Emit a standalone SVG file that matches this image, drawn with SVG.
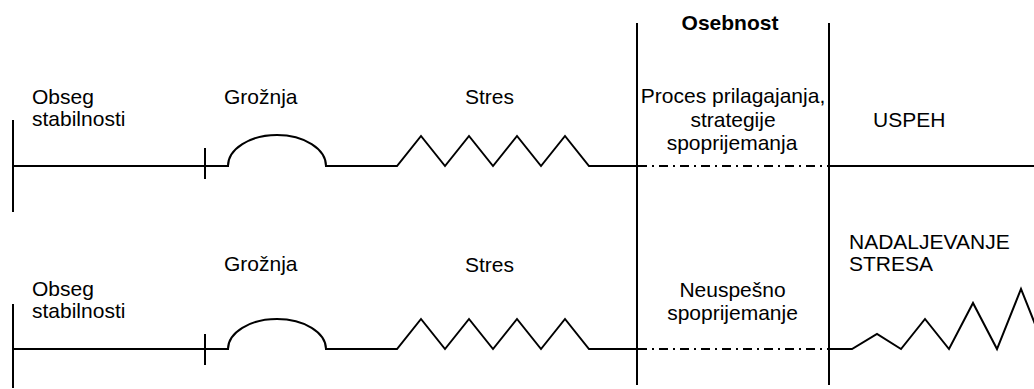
<svg xmlns="http://www.w3.org/2000/svg" width="1034" height="389" viewBox="0 0 1034 389">
  <style>
    .ln { fill: none; stroke: #000; stroke-width: 2; stroke-linejoin: miter; }
    .dd { fill: none; stroke: #000; stroke-width: 2; stroke-dasharray: 9 5 2 5; }
    .t { font-family: "Liberation Sans", Arial, sans-serif; font-size: 21px; fill: #000; }
    .c { text-anchor: middle; }
    .b { font-weight: bold; font-size: 21px; }
  </style>
  <rect width="1034" height="389" fill="#fff"/>

  <!-- column separators around the personality band -->
  <g id="separators">
    <line class="ln" x1="637" y1="23" x2="637" y2="385"/>
    <line class="ln" x1="829" y1="23" x2="829" y2="385"/>
    <text class="t c b" x="730" y="30">Osebnost</text>
  </g>

  <!-- upper course: successful coping -->
  <g id="row-success">
    <line class="ln" x1="13" y1="120" x2="13" y2="212"/>
    <line class="ln" x1="205" y1="148" x2="205" y2="179"/>
    <path class="ln" d="M13 166 H228 A49 31 0 0 1 326 166 H397 L421 136 L445 166 L469 136 L493 166 L517 136 L541 166 L565 136 L589 166 H637"/>
    <line class="dd" x1="638" y1="166" x2="829" y2="166"/>
    <line class="ln" x1="829" y1="166" x2="1034" y2="166"/>
    <text class="t" x="32" y="104">Obseg</text>
    <text class="t" x="32" y="126">stabilnosti</text>
    <text class="t" x="224" y="104">Grožnja</text>
    <text class="t" x="465" y="104">Stres</text>
    <text class="t c" x="733" y="103">Proces prilagajanja,</text>
    <text class="t c" x="733" y="127">strategije</text>
    <text class="t c" x="732" y="150">spoprijemanja</text>
    <text class="t" x="873" y="126.5">USPEH</text>
  </g>

  <!-- lower course: failed coping, stress keeps growing -->
  <g id="row-failure">
    <line class="ln" x1="13" y1="304" x2="13" y2="388"/>
    <line class="ln" x1="205" y1="334" x2="205" y2="365"/>
    <path class="ln" d="M13 349 H228 A49 30 0 0 1 326 349 H397 L421 319 L445 349 L469 319 L493 349 L517 319 L541 349 L565 319 L589 349 H637"/>
    <line class="dd" x1="638" y1="349" x2="829" y2="349"/>
    <path class="ln" d="M829 349 H852 L877 334 L901 349 L925 319 L949 349 L973 303 L997 349 L1021 289 L1045 349"/>
    <text class="t" x="32" y="296">Obseg</text>
    <text class="t" x="32" y="318">stabilnosti</text>
    <text class="t" x="224" y="271">Grožnja</text>
    <text class="t" x="465" y="271.5">Stres</text>
    <text class="t c" x="732.5" y="297">Neuspešno</text>
    <text class="t c" x="732.5" y="319.5">spoprijemanje</text>
    <text class="t" x="849" y="248.5">NADALJEVANJE</text>
    <text class="t" x="849" y="270.5">STRESA</text>
  </g>
</svg>
